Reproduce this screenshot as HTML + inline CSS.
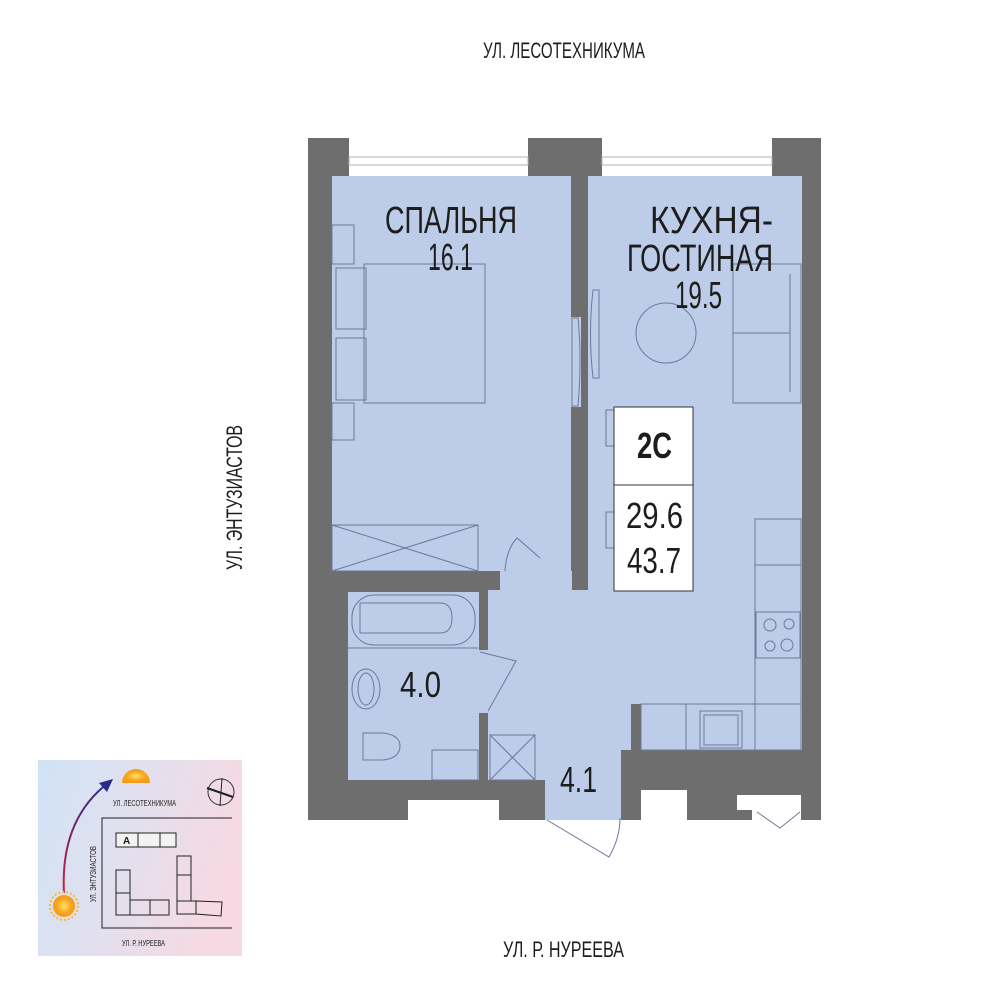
<!DOCTYPE html>
<html><head><meta charset="utf-8"><style>
html,body{margin:0;padding:0;background:#fff;}
svg{display:block;}
text{font-family:"Liberation Sans Narrow","Liberation Sans",sans-serif;fill:#1d1d1b;}
</style></head><body>
<svg width="1000" height="1000" viewBox="0 0 1000 1000" xmlns="http://www.w3.org/2000/svg">
<defs>
<linearGradient id="g" x1="0" y1="0" x2="1" y2="0.3">
<stop offset="0" stop-color="#cfe3f5"/><stop offset="0.5" stop-color="#e2e0ef"/><stop offset="1" stop-color="#f6d9e2"/>
</linearGradient>
<linearGradient id="arr" x1="0" y1="1" x2="0" y2="0">
<stop offset="0" stop-color="#d8203a"/><stop offset="1" stop-color="#2b2a8a"/>
</linearGradient>
<radialGradient id="sun"><stop offset="0" stop-color="#ffe066"/><stop offset="0.7" stop-color="#f7a21b"/><stop offset="1" stop-color="#f39b1b"/></radialGradient>
</defs>

<!-- street labels -->
<text x="483" y="58" font-size="22" textLength="162" lengthAdjust="spacingAndGlyphs">УЛ. ЛЕСОТЕХНИКУМА</text>
<text x="503" y="957" font-size="22" textLength="121" lengthAdjust="spacingAndGlyphs">УЛ. Р. НУРЕЕВА</text>
<text transform="translate(242,570) rotate(-90)" font-size="22" textLength="145" lengthAdjust="spacingAndGlyphs">УЛ. ЭНТУЗИАСТОВ</text>

<!-- walls base -->
<rect x="308" y="138" width="513" height="682" fill="#6e6e6e"/>
<!-- windows -->
<rect x="349" y="138" width="179" height="39" fill="#fff"/>
<rect x="602" y="138" width="170" height="39" fill="#fff"/>
<rect x="349" y="157" width="179" height="8" fill="none" stroke="#b0b0b0" stroke-width="1"/>
<rect x="602" y="157" width="170" height="8" fill="none" stroke="#b0b0b0" stroke-width="1"/>

<g fill="#bccce9">
<!-- bedroom -->
<rect x="332" y="176" width="239" height="395"/>
<rect x="570" y="317" width="11" height="90"/>
<rect x="500" y="571" width="72" height="21"/>
<!-- kitchen -->
<rect x="588" y="176" width="214" height="574"/>
<!-- hallway -->
<rect x="488" y="590" width="143" height="190"/>
<rect x="545" y="780" width="76" height="40"/>
<rect x="488" y="590" width="100" height="160"/>
<!-- bathroom -->
<rect x="348" y="592" width="131" height="188"/>
<rect x="478" y="650" width="12" height="63"/>
</g>
<!-- kitchen bottom wall piece -->
<rect x="631" y="704" width="10" height="46" fill="#6e6e6e"/>
<rect x="621" y="750" width="200" height="70" fill="#6e6e6e"/>
<rect x="621" y="750" width="10" height="30" fill="#6e6e6e"/>
<!-- white notches bottom -->
<rect x="408" y="800" width="91" height="20" fill="#fff"/>
<rect x="641" y="790" width="46" height="30" fill="#fff"/>
<rect x="737" y="795" width="64" height="15" fill="#fff"/>
<rect x="752" y="810" width="49" height="10" fill="#fff"/>

<g fill="none" stroke="#6a7a98" stroke-width="1">
<!-- bedroom furniture -->
<rect x="332" y="225" width="22" height="39"/>
<rect x="332" y="403" width="22" height="37"/>
<rect x="364" y="264" width="121" height="139"/>
<rect x="336" y="268" width="30" height="61"/>
<rect x="336" y="338" width="30" height="62"/>
<rect x="332" y="525" width="146" height="46"/>
<line x1="332" y1="525" x2="478" y2="571"/>
<line x1="332" y1="571" x2="478" y2="525"/>
<path d="M505 571 Q506 550 517 538 L540 558"/>
<!-- sliding doors -->
<path d="M572 318 L578 318 Q582 360 578 406 L572 406 Z"/>
<path d="M593 290 L599 290 L599 378 L593 378 Q588 334 593 290 Z"/>
<!-- kitchen -->
<circle cx="666" cy="333" r="30"/>
<rect x="733" y="264" width="68" height="139"/>
<line x1="790" y1="274" x2="790" y2="392"/>
<line x1="733" y1="333" x2="790" y2="333"/>
<rect x="606" y="410" width="8" height="36"/>
<rect x="606" y="512" width="8" height="36"/>
<rect x="755" y="519" width="46" height="185"/>
<line x1="755" y1="565" x2="801" y2="565"/>
<rect x="756" y="612" width="44" height="46"/>
<circle cx="770" cy="625" r="6"/><circle cx="789" cy="624" r="5"/>
<circle cx="770" cy="646" r="5"/><circle cx="787" cy="645" r="6"/>
<rect x="641" y="704" width="160" height="46"/>
<line x1="686" y1="704" x2="686" y2="750"/>
<line x1="755" y1="704" x2="755" y2="750"/>
<rect x="700" y="711" width="42" height="37"/>
<rect x="704" y="715" width="34" height="30"/>
<!-- bathroom -->
<rect x="352" y="595" width="123" height="50" rx="22"/>
<path d="M360 603 L440 603 Q452 603 452 618 Q452 633 440 633 L360 633 Z"/>
<line x1="348" y1="648" x2="478" y2="648"/>
<ellipse cx="366" cy="689" rx="14" ry="20"/>
<ellipse cx="366" cy="689" rx="8" ry="16"/>
<path d="M363 733 L383 733 Q400 735 400 746 Q400 758 383 760 L363 760 Z"/>
<rect x="432" y="750" width="46" height="30"/>
<path d="M480 652 L516 661 Q500 690 488 711"/>
<!-- hallway -->
<rect x="490" y="735" width="45" height="45"/>
<line x1="490" y1="735" x2="535" y2="780"/>
<line x1="535" y1="735" x2="490" y2="780"/>
<path d="M547 820 L609 857 Q620 838 620 818"/>
<path d="M757 812 L780 828 L800 812"/>
</g>

<!-- info box -->
<rect x="614" y="407" width="79" height="184" fill="#fff" stroke="#333" stroke-width="1"/>
<line x1="614" y1="485" x2="693" y2="485" stroke="#333"/>

<!-- labels -->
<text x="385" y="233" font-size="38" textLength="132" lengthAdjust="spacingAndGlyphs">СПАЛЬНЯ</text>
<text x="428" y="270" font-size="38" textLength="45" lengthAdjust="spacingAndGlyphs">16.1</text>
<text x="650" y="233" font-size="38" textLength="123" lengthAdjust="spacingAndGlyphs">КУХНЯ-</text>
<text x="627" y="271" font-size="38" textLength="146" lengthAdjust="spacingAndGlyphs">ГОСТИНАЯ</text>
<text x="675" y="308" font-size="38" textLength="47" lengthAdjust="spacingAndGlyphs">19.5</text>
<text x="637" y="458" font-size="36" font-weight="bold" textLength="35" lengthAdjust="spacingAndGlyphs">2C</text>
<text x="626" y="528" font-size="36" textLength="57" lengthAdjust="spacingAndGlyphs">29.6</text>
<text x="627" y="573" font-size="36" textLength="54" lengthAdjust="spacingAndGlyphs">43.7</text>
<text x="400" y="697" font-size="36" textLength="41" lengthAdjust="spacingAndGlyphs">4.0</text>
<text x="560" y="792" font-size="36" textLength="37" lengthAdjust="spacingAndGlyphs">4.1</text>

<!-- inset -->
<rect x="38" y="760" width="204" height="196" fill="url(#g)"/>
<path d="M64 893 Q60 820 108 783" fill="none" stroke="url(#arr)" stroke-width="2"/>
<polygon points="113,779 99,783 107,792" fill="#2b2a8a"/>
<path d="M122 783 A14 14 0 0 1 150 783 Z" fill="url(#sun)"/>
<circle cx="64" cy="906" r="11" fill="url(#sun)"/>
<circle cx="64" cy="906" r="14" fill="none" stroke="#f7b733" stroke-width="2" stroke-dasharray="2 2"/>
<circle cx="221" cy="792" r="13" fill="none" stroke="#333" stroke-width="1"/>
<line x1="207" y1="788" x2="233" y2="797" stroke="#222" stroke-width="2"/>
<line x1="222" y1="778" x2="220" y2="806" stroke="#222" stroke-width="1"/>
<text x="113" y="806" font-size="8" textLength="63" lengthAdjust="spacingAndGlyphs">УЛ. ЛЕСОТЕХНИКУМА</text>
<text x="122" y="946" font-size="8" textLength="43" lengthAdjust="spacingAndGlyphs">УЛ. Р. НУРЕЕВА</text>
<text transform="translate(96,902) rotate(-90)" font-size="8" textLength="56" lengthAdjust="spacingAndGlyphs">УЛ. ЭНТУЗИАСТОВ</text>
<g fill="none" stroke="#222" stroke-width="1">
<polyline points="232,818 102,818 102,928 232,928"/>
<rect x="116" y="833" width="60" height="14" fill="#f2f2f2"/>
<line x1="138" y1="833" x2="138" y2="847"/><line x1="160" y1="833" x2="160" y2="847"/><line x1="151" y1="833" x2="151" y2="847" stroke="none"/>
<rect x="116" y="870" width="14" height="45"/><line x1="116" y1="893" x2="130" y2="893"/>
<rect x="130" y="900" width="39" height="15"/><line x1="150" y1="900" x2="150" y2="915"/>
<rect x="177" y="856" width="14" height="45"/><line x1="177" y1="875" x2="191" y2="875"/>
<polyline points="177,901 177,914 196,914 196,901 191,901"/>
<polygon points="196,901 222,902 221,916 196,914"/>
</g>
<text x="123" y="844" font-size="10" font-weight="bold">A</text>
</svg>
</body></html>
